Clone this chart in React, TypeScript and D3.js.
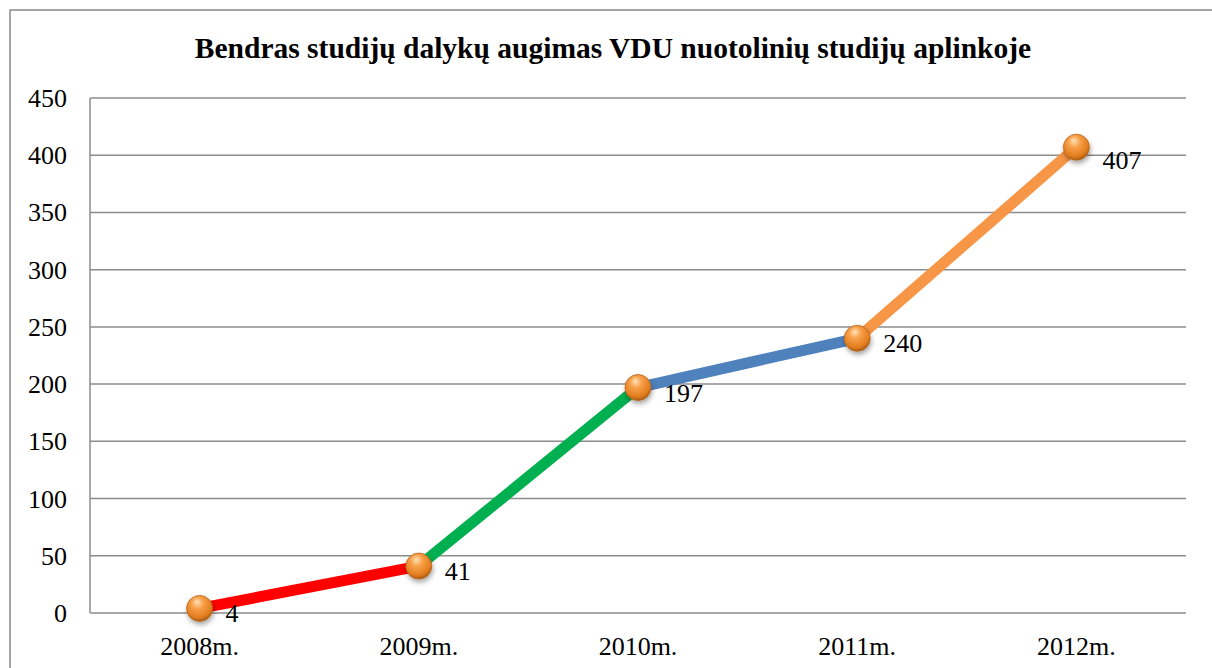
import React, { useEffect, useRef } from 'react';
import * as d3 from 'd3';

const title = 'Bendras studijų dalykų augimas VDU nuotolinių studijų aplinkoje';
const years = ['2008m.', '2009m.', '2010m.', '2011m.', '2012m.'];
const counts = [4, 41, 197, 240, 407];
const segmentColors = ['#ff0000', '#00b050', '#4f81bd', '#f79646'];
const yTicks = [0, 50, 100, 150, 200, 250, 300, 350, 400, 450];

const App: React.FC = () => {
    const svgRef = useRef<SVGSVGElement>(null);
    const width = 1212;
    const height = 668;

    useEffect(() => {
        if (!svgRef.current) return;
        const svg = d3.select(svgRef.current);
        svg.selectAll('*').remove();

        const margin = { top: 98, right: 26, bottom: 55, left: 90 };
        const innerWidth = width - margin.left - margin.right;
        const innerHeight = height - margin.top - margin.bottom;

        const defs = svg.append('defs');
        const grad = defs.append('radialGradient')
            .attr('id', 'ball')
            .attr('cx', '45%').attr('cy', '35%').attr('r', '65%')
            .attr('fx', '40%').attr('fy', '25%');
        grad.append('stop').attr('offset', '0%').attr('stop-color', '#fde3b8');
        grad.append('stop').attr('offset', '35%').attr('stop-color', '#f8a04a');
        grad.append('stop').attr('offset', '80%').attr('stop-color', '#e27d1e');
        grad.append('stop').attr('offset', '100%').attr('stop-color', '#a85a14');
        const shadow = defs.append('filter').attr('id', 'shadow')
            .attr('x', '-50%').attr('y', '-50%').attr('width', '200%').attr('height', '200%');
        shadow.append('feDropShadow')
            .attr('dx', 1).attr('dy', 3).attr('stdDeviation', 2.5)
            .attr('flood-color', '#000').attr('flood-opacity', 0.35);

        // outer frame
        svg.append('rect')
            .attr('x', 10).attr('y', 10)
            .attr('width', width + 10).attr('height', height + 10)
            .attr('fill', 'white')
            .attr('stroke', '#888')
            .attr('stroke-width', 1.5);

        const font = "'Liberation Serif', 'Times New Roman', serif";

        svg.append('text')
            .attr('x', 613)
            .attr('y', 58)
            .attr('text-anchor', 'middle')
            .attr('font-family', font)
            .attr('font-weight', 'bold')
            .attr('font-size', 29.5)
            .text(title);

        const x = d3.scaleBand().domain(years).range([0, innerWidth]);
        const y = d3.scaleLinear().domain([0, 450]).range([innerHeight, 0]);

        const g = svg.append('g')
            .attr('transform', `translate(${margin.left},${margin.top})`);

        // grid lines
        g.selectAll('line.grid')
            .data(yTicks)
            .enter()
            .append('line')
            .attr('class', 'grid')
            .attr('x1', 0).attr('x2', innerWidth)
            .attr('y1', d => y(d)).attr('y2', d => y(d))
            .attr('stroke', '#8c8c8c')
            .attr('stroke-width', 1.5);

        g.append('line')
            .attr('x1', 0).attr('x2', 0)
            .attr('y1', 0).attr('y2', innerHeight)
            .attr('stroke', '#8c8c8c')
            .attr('stroke-width', 1.5);

        g.selectAll('text.ytick')
            .data(yTicks)
            .enter()
            .append('text')
            .attr('x', -23)
            .attr('y', d => y(d) + 9)
            .attr('text-anchor', 'end')
            .attr('font-family', font)
            .attr('font-size', 26)
            .text(d => d);

        g.selectAll('text.xtick')
            .data(years)
            .enter()
            .append('text')
            .attr('x', d => (x(d) ?? 0) + x.bandwidth() / 2)
            .attr('y', innerHeight + 42)
            .attr('text-anchor', 'middle')
            .attr('font-family', font)
            .attr('font-size', 26)
            .text(d => d);

        const cx = (i: number) => (x(years[i]) ?? 0) + x.bandwidth() / 2;

        // coloured segments
        segmentColors.forEach((c, i) => {
            g.append('line')
                .attr('x1', cx(i)).attr('y1', y(counts[i]))
                .attr('x2', cx(i + 1)).attr('y2', y(counts[i + 1]))
                .attr('stroke', c)
                .attr('stroke-width', 11)
                .attr('stroke-linecap', 'round');
        });

        // markers
        g.selectAll('circle.pt')
            .data(counts)
            .enter()
            .append('circle')
            .attr('cx', (d, i) => cx(i))
            .attr('cy', d => y(d))
            .attr('r', 13)
            .attr('fill', 'url(#ball)')
            .attr('stroke', '#b8661c')
            .attr('stroke-width', 0.8)
            .attr('filter', 'url(#shadow)');

        // data labels
        g.selectAll('text.val')
            .data(counts)
            .enter()
            .append('text')
            .attr('x', (d, i) => cx(i) + 26)
            .attr('y', (d, i) => y(d) + (i === counts.length - 1 ? 22 : 14))
            .attr('font-family', font)
            .attr('font-size', 26)
            .text(d => d);
    }, []);

    return (
        <svg
            ref={svgRef}
            width={width}
            height={height}
            style={{ position: 'absolute', left: 0, top: 0, background: 'white' }}
        />
    );
};

export default App;
